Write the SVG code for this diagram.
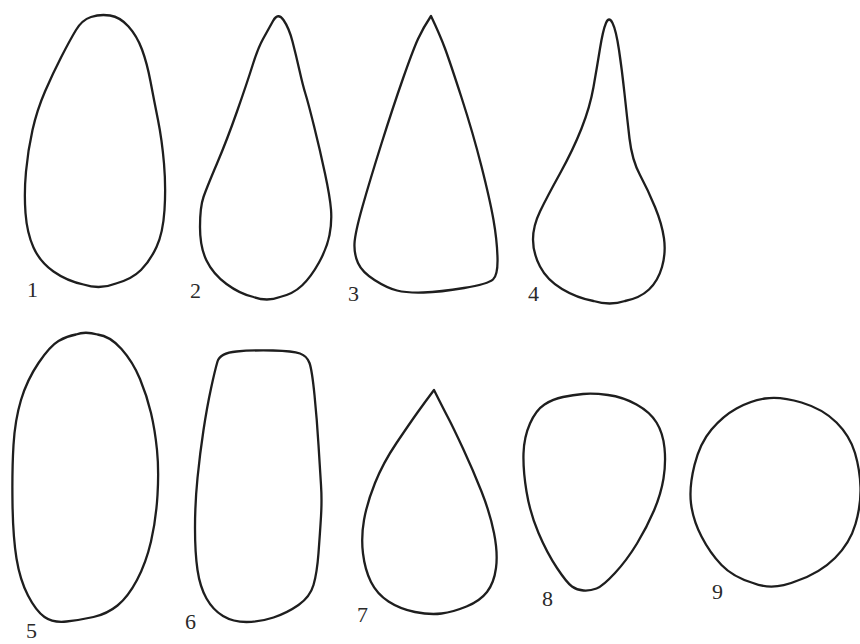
<svg xmlns="http://www.w3.org/2000/svg" width="860" height="644" viewBox="0 0 860 644">
<style>
.s{fill:none;stroke:#1e1e1e;stroke-width:2.3;stroke-linejoin:round;stroke-linecap:round}
.l{font-family:"Liberation Serif","Times New Roman",serif;font-size:22px;fill:#2a2a2a}
</style>
<rect width="860" height="644" fill="#fff"/>
<g id="shape1">
<path class="s" d="M91,17 Q100,14 110,15.5 Q120,17 128.5,26.5 Q137,36 142,49.5 Q147,63 150.5,81.5 Q154,100 158,120 Q162,140 164,163.5 Q166,187 164.5,210 Q163,233 156.5,247 Q150,261 141,270 Q132,279 116,283.5 Q100,290 83.5,284.5 Q67,281 53.5,271.5 Q40,262 33.5,247.5 Q27,233 25.5,213 Q24,193 26,171.5 Q28,150 32.5,130 Q37,110 45,91.5 Q53,73 61.5,56.5 Q70,40 76,30 Q82,20 91,17 Z"/>
<text class="l" x="27" y="297">1</text>
</g>
<g id="shape2">
<path class="s" d="M273,21 Q278,12 283.5,20 Q289,28 292.5,41.5 Q296,55 299.5,70.5 Q303,86 305.5,94 Q308,102 314,126 Q320,150 325,173.5 Q330,197 331,209.5 Q332,222 329.5,235 Q327,248 319,262.5 Q311,277 302,285.5 Q293,294 280,297 Q267,302 253.5,297 Q240,294 226.5,284 Q213,274 206.5,260.5 Q200,247 200,227 Q200,207 203.5,197 Q207,187 217,163.5 Q227,140 237,111.5 Q247,83 252.5,65.5 Q258,48 263,39 Q268,30 273,21 Z"/>
<text class="l" x="190" y="298">2</text>
</g>
<g id="shape3">
<path class="s" d="M431,16 Q440,35 445,48.5 Q450,62 461.5,97.5 Q473,133 481.5,166.5 Q490,200 493.5,220 Q497,240 497.5,257.5 Q498,275 493,279.5 Q488,284 464,288 Q440,292 423.5,292.5 Q407,293 397,290.5 Q387,288 374.5,280 Q362,272 358,263 Q354,254 354.5,243.5 Q355,233 362.5,206.5 Q370,180 381.5,143.5 Q393,107 403,78.5 Q413,50 418,39 Q423,28 431,16 Z"/>
<text class="l" x="348" y="301">3</text>
</g>
<g id="shape4">
<path class="s" d="M606,23 Q609,16 612.5,23 Q616,30 619,50 Q622,70 624.5,93.5 Q627,117 629.5,138.5 Q632,160 640,175 Q648,190 655,207 Q662,224 664,238.5 Q666,253 662,267 Q658,281 649,289.5 Q640,298 625,301 Q610,306 593.5,301 Q577,298 562,289 Q547,280 540,266.5 Q533,253 533,239.5 Q533,226 540,211.5 Q547,197 560,173.5 Q573,150 581.5,128.5 Q590,107 593.5,87 Q597,67 600,48.5 Q603,30 606,23 Z"/>
<text class="l" x="528" y="301">4</text>
</g>
<g id="shape5">
<path class="s" d="M76,334.5 Q85,331 97.5,334.5 Q110,336 121.5,349 Q133,362 140,379 Q147,396 151,413 Q155,430 157,450 Q159,470 157.5,495 Q156,520 151,541.5 Q146,563 137,580 Q128,597 117.5,605.5 Q107,614 93.5,617 Q80,620 66.5,621.5 Q53,623 44.5,617 Q36,611 28,595.5 Q20,580 16.5,558.5 Q13,537 12.5,503.5 Q12,470 13.5,445 Q15,420 21,400 Q27,380 38.5,363 Q50,346 58.5,341 Q67,336 76,334.5 Z"/>
<text class="l" x="26" y="638">5</text>
</g>
<g id="shape6">
<path class="s" d="M217.5,361.5 Q220,353 236.5,351.5 Q253,350 273,350.5 Q293,351 300,353.5 Q307,356 309.5,363 Q312,370 314.5,395 Q317,420 318.5,445 Q320,470 321,485 Q322,500 321,516.5 Q320,533 318.5,553 Q317,573 313.5,585 Q310,597 298.5,605 Q287,613 273.5,617.5 Q260,622 246.5,622 Q233,622 223,616 Q213,610 206.5,598.5 Q200,587 197.5,570 Q195,553 195,528 Q195,503 197.5,478 Q200,453 203.5,430 Q207,407 211,388.5 Q215,370 217.5,361.5 Z"/>
<text class="l" x="185" y="629">6</text>
</g>
<g id="shape7">
<path class="s" d="M434,390 Q443,408 448,417.5 Q453,427 463,448.5 Q473,470 481.5,491.5 Q490,513 494,533 Q498,553 496,568 Q494,583 487,592 Q480,601 466.5,606.5 Q453,612 441.5,613.5 Q430,615 415,612 Q400,609 388.5,601.5 Q377,594 371,582 Q365,570 363,553.5 Q361,537 364,520 Q367,503 375,483 Q383,463 396.5,443 Q410,423 417.5,412.5 Q425,402 434,390 Z"/>
<text class="l" x="357" y="622">7</text>
</g>
<g id="shape8">
<path class="s" d="M583,394 Q593,393 608,395 Q623,397 636.5,404.5 Q650,412 656.5,422.5 Q663,433 664.5,448 Q666,463 663.5,478.5 Q661,494 654,510.5 Q647,527 637,543.5 Q627,560 615,573 Q603,586 596.5,588.5 Q590,591 583.5,590.5 Q577,590 572,586.5 Q567,583 557,568 Q547,553 538.5,533 Q530,513 526.5,491.5 Q523,470 523.5,453.5 Q524,437 530,423.5 Q536,410 544.5,404.5 Q553,399 563,397 Q573,395 583,394 Z"/>
<text class="l" x="542" y="606">8</text>
</g>
<g id="shape9">
<path class="s" d="M765,398.5 Q780,396 801.5,402.5 Q823,409 836.5,422.5 Q850,436 855,453 Q860,470 860.5,487.5 Q861,505 855.5,524 Q850,543 835,558 Q820,573 796.5,581 Q773,591 753,583 Q733,577 721.5,565 Q710,553 701.5,536.5 Q693,520 691,503.5 Q689,487 694.5,465 Q700,443 711.5,429.5 Q723,416 736.5,408.5 Q750,401 765,398.5 Z"/>
<text class="l" x="712" y="599">9</text>
</g>
</svg>
